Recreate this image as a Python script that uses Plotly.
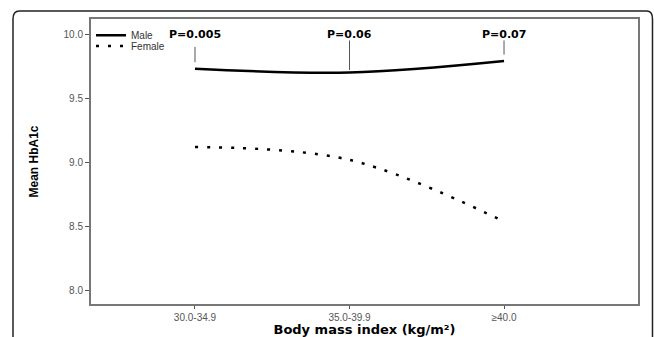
import plotly.graph_objects as go

categories = ["30.0-34.9", "35.0-39.9", "≥40.0"]
male = [9.73, 9.70, 9.79]
female = [9.12, 9.02, 8.54]
p_labels = ["P=0.005", "P=0.06", "P=0.07"]
y_ticks = [8.0, 8.5, 9.0, 9.5, 10.0]

fig = go.Figure()
fig.add_trace(go.Scatter(x=[0, 1, 2], y=male, mode="lines", name="Male", legend="legend",
                         line=dict(color="black", width=2.5, shape="spline")))
fig.add_trace(go.Scatter(x=[0, 1, 2], y=female, mode="lines", name="Female", legend="legend2",
                         line=dict(color="black", width=2.5, shape="spline", dash="3px,9px")))

# P-value labels with short leader lines
tops = [9.9, 9.95, 9.95]
bottoms = [9.78, 9.72, 9.84]
for i, (lab, t, b) in enumerate(zip(p_labels, tops, bottoms)):
    fig.add_shape(type="line", xref="x", yref="y", x0=i, x1=i, y0=b, y1=t,
                  line=dict(color="#555", width=1))
    fig.add_annotation(x=i, y=10.0, xref="x", yref="y", text="<b>%s</b>" % lab,
                       showarrow=False, yanchor="middle",
                       font=dict(family="DejaVu Sans", size=11, color="black"))

# outer rounded frame
fig.add_shape(type="path", xref="paper", yref="paper", layer="below",
              path="M -0.1426,-0.25 L -0.1426,1.0 Q -0.1426,1.028 -0.131,1.028 L 1.016,1.028 Q 1.0265,1.028 1.0265,1.0 L 1.0265,-0.25",
              line=dict(color="#222", width=1.5))

legend_common = dict(xanchor="left", yanchor="middle", bgcolor="rgba(0,0,0,0)",
                     font=dict(family="Liberation Sans", size=10, color="#333"),
                     itemwidth=30, borderwidth=0)

fig.update_layout(
    width=654, height=337,
    margin=dict(l=91, r=16, t=19, b=33, autoexpand=False),
    plot_bgcolor="white", paper_bgcolor="white",
    showlegend=True,
    legend=dict(x=0.0, y=0.943, **legend_common),
    legend2=dict(x=0.0, y=0.905, **legend_common),
    xaxis=dict(range=[-0.673, 2.867], tickmode="array", tickvals=[0, 1, 2], ticktext=categories,
               showgrid=False, zeroline=False, showline=True, linecolor="#777", linewidth=2,
               mirror=True, ticks="outside", ticklen=3, tickcolor="#555", automargin=False,
               tickfont=dict(family="Liberation Sans", size=10, color="#555"),
               title=dict(text="<b>Body mass index (kg/m²)</b>", standoff=4,
                          font=dict(family="DejaVu Sans", size=13, color="black"))),
    yaxis=dict(range=[7.898, 10.117], tickvals=y_ticks, ticktext=["8.0", "8.5", "9.0", "9.5", "10.0"],
               showgrid=False, zeroline=False, showline=True, linecolor="#777", linewidth=2,
               mirror=True, ticks="outside", ticklen=4, tickcolor="#555", automargin=False,
               tickfont=dict(family="Liberation Sans", size=10, color="#555"),
               title=dict(text="<b>Mean HbA1c</b>", standoff=22,
                          font=dict(family="Liberation Sans Narrow, Liberation Sans", size=12, color="black"))),
)

fig.write_html("out.html", config={"displayModeBar": False},
               post_script="document.body.style.margin='0';document.body.style.overflow='hidden';")
